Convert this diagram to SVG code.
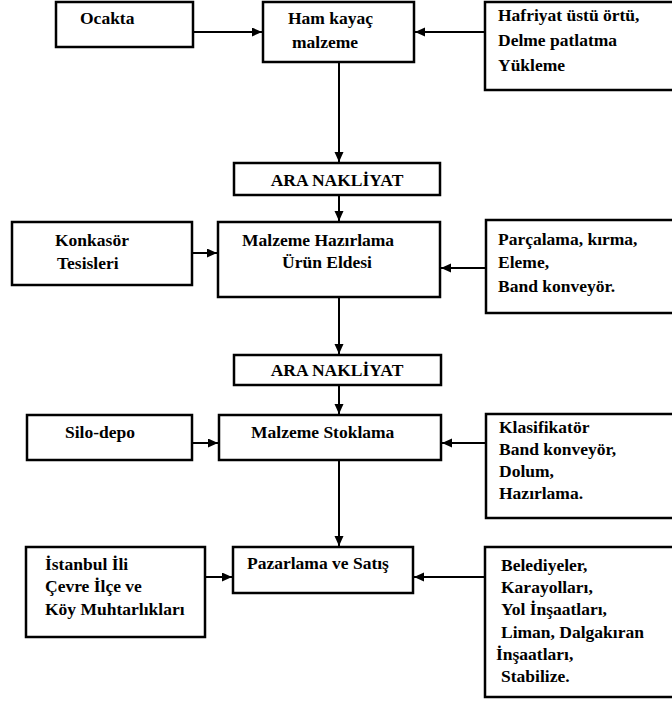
<svg xmlns="http://www.w3.org/2000/svg" width="672" height="704" viewBox="0 0 672 704">
<style>
.box{fill:#fff;stroke:#000;stroke-width:2.5}
.t{font-family:'Times New Roman','Liberation Serif','DejaVu Serif',serif;font-weight:700;font-size:17.5px;fill:#000}
.c{text-anchor:middle}
.conn{stroke:#000;stroke-width:2;fill:none;marker-end:url(#ah)}
</style>
<defs>
<marker id="ah" markerUnits="userSpaceOnUse" markerWidth="11" markerHeight="10" refX="10" refY="4.5" orient="auto">
<path d="M0,0 L10,4.5 L0,9 Z" fill="#000"/>
</marker>
</defs>
<rect width="672" height="704" fill="#fff"/>
<g id="connectors">
<line class="conn" x1="193" y1="32" x2="262" y2="32"/>
<line class="conn" x1="485" y1="32" x2="415" y2="32"/>
<line class="conn" x1="339" y1="62" x2="339" y2="162"/>
<line class="conn" x1="339" y1="195" x2="339" y2="221"/>
<line class="conn" x1="192" y1="253" x2="217" y2="253"/>
<line class="conn" x1="486" y1="268" x2="441" y2="268"/>
<line class="conn" x1="339" y1="297" x2="339" y2="354"/>
<line class="conn" x1="339" y1="385" x2="339" y2="414"/>
<line class="conn" x1="192" y1="443" x2="218" y2="443"/>
<line class="conn" x1="486" y1="443" x2="442" y2="443"/>
<line class="conn" x1="339" y1="460" x2="339" y2="546"/>
<line class="conn" x1="205" y1="577" x2="232" y2="577"/>
<line class="conn" x1="485" y1="577" x2="414" y2="577"/>
</g>
<g font-family="Liberation Serif, serif" font-weight="bold">
<g id="ocakta">
<rect class="box" x="56" y="2" width="137" height="45"/>
<text class="t" x="80" y="24">Ocakta</text>
</g>
<g id="ham-kayac">
<rect class="box" x="263" y="2" width="151" height="60"/>
<text class="t" x="288" y="24">Ham kayaç</text>
<text class="t" x="292" y="48">malzeme</text>
</g>
<g id="hafriyat">
<rect class="box" x="485" y="2" width="192" height="88"/>
<text class="t" x="498" y="21">Hafriyat üstü örtü,</text>
<text class="t" x="498" y="46">Delme patlatma</text>
<text class="t" x="498" y="71">Yükleme</text>
</g>
<g id="ara-nakliyat-1">
<rect class="box" x="234" y="163" width="206" height="32"/>
<text class="t c" x="337" y="186">ARA NAKLİYAT</text>
</g>
<g id="konkasor">
<rect class="box" x="12" y="222" width="180" height="63"/>
<text class="t" x="55" y="246">Konkasör</text>
<text class="t" x="57" y="269">Tesisleri</text>
</g>
<g id="malzeme-hazirlama">
<rect class="box" x="218" y="222" width="222" height="75"/>
<text class="t" x="242" y="246">Malzeme Hazırlama</text>
<text class="t" x="282" y="268">Ürün Eldesi</text>
</g>
<g id="parcalama">
<rect class="box" x="486" y="220" width="191" height="93"/>
<text class="t" x="498" y="245">Parçalama, kırma,</text>
<text class="t" x="498" y="268">Eleme,</text>
<text class="t" x="498" y="292">Band konveyör.</text>
</g>
<g id="ara-nakliyat-2">
<rect class="box" x="234" y="355" width="207" height="30"/>
<text class="t c" x="337" y="376">ARA NAKLİYAT</text>
</g>
<g id="silo-depo">
<rect class="box" x="27" y="415" width="165" height="45"/>
<text class="t" x="65" y="438">Silo-depo</text>
</g>
<g id="malzeme-stoklama">
<rect class="box" x="219" y="415" width="222" height="45"/>
<text class="t" x="251" y="438">Malzeme Stoklama</text>
</g>
<g id="klasifikator">
<rect class="box" x="486" y="414" width="191" height="104"/>
<text class="t" x="499" y="433">Klasifikatör</text>
<text class="t" x="499" y="455">Band konveyör,</text>
<text class="t" x="499" y="477">Dolum,</text>
<text class="t" x="499" y="499">Hazırlama.</text>
</g>
<g id="istanbul">
<rect class="box" x="26" y="547" width="179" height="90"/>
<text class="t" x="45" y="570">İstanbul İli</text>
<text class="t" x="45" y="592">Çevre İlçe ve</text>
<text class="t" x="45" y="615">Köy Muhtarlıkları</text>
</g>
<g id="pazarlama">
<rect class="box" x="233" y="547" width="180" height="46"/>
<text class="t" x="247" y="569">Pazarlama ve Satış</text>
</g>
<g id="belediyeler">
<rect class="box" x="485" y="547" width="192" height="150"/>
<text class="t" x="501" y="571">Belediyeler,</text>
<text class="t" x="501" y="593">Karayolları,</text>
<text class="t" x="501" y="615">Yol İnşaatları,</text>
<text class="t" x="501" y="638">Liman, Dalgakıran</text>
<text class="t" x="496" y="660">İnşaatları,</text>
<text class="t" x="501" y="682">Stabilize.</text>
</g>
</g>
</svg>
